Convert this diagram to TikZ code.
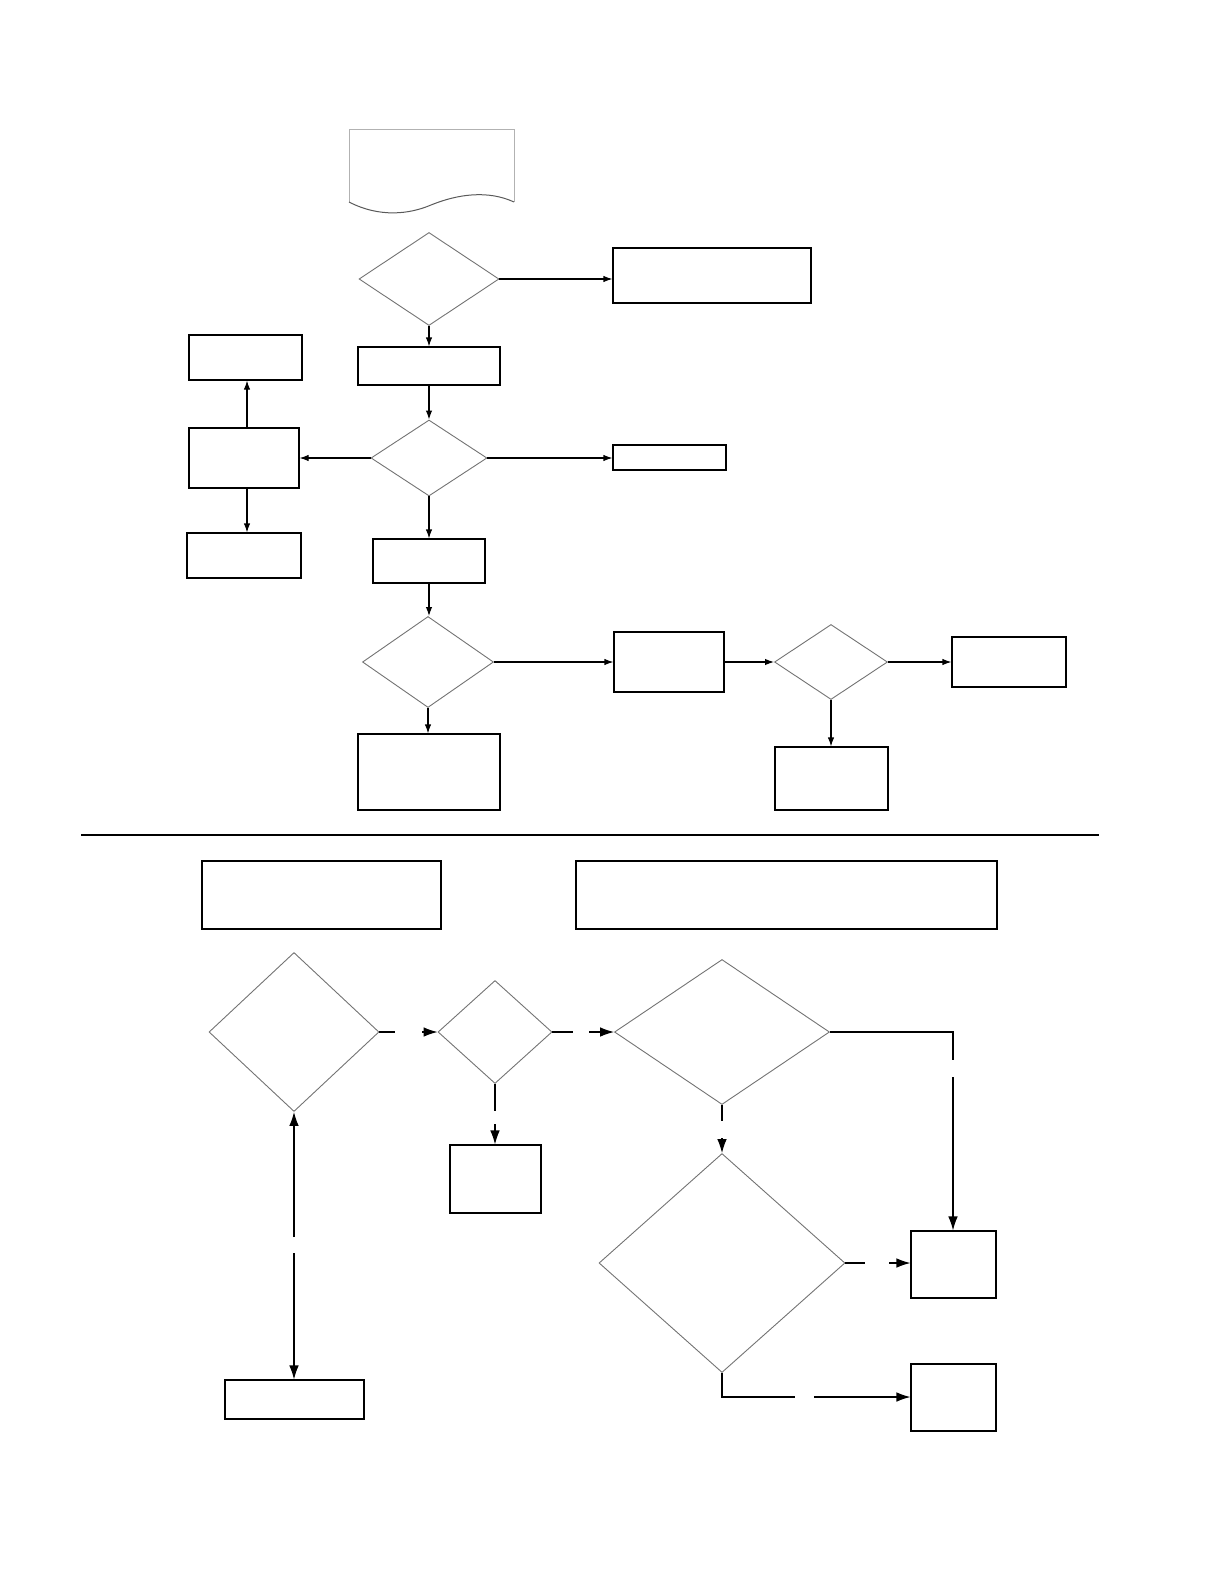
\documentclass[tikz,border=0pt]{standalone}
\usepackage{tikz}
\usetikzlibrary{shapes.geometric,arrows.meta}

\begin{document}
\begin{tikzpicture}[x=0.5pt,y=-0.5pt,
  box/.style={rectangle,draw=black,line width=0.55pt,fill=white,inner sep=0pt},
  dec/.style={diamond,draw=black!55,line width=0.45pt,inner sep=0pt},
  edge/.style={-{Latex[length=4.5pt,width=3.2pt]},line width=0.55pt},
  bigedge/.style={-{Latex[length=7pt,width=4.8pt]},line width=0.6pt},
  seg/.style={line width=0.6pt}]
\useasboundingbox (0,0) rectangle (1224,1584);
\draw[black!30,line width=0.5pt] (349,202) -- (349,130) -- (514,130) -- (514,202);
\draw[black!65,line width=0.5pt] (349,202) .. controls (380,218) and (410,214) .. (431,205)
    .. controls (458,194) and (488,190) .. (514,202);
\node[dec,minimum width=70pt,minimum height=46.5pt] (d1) at (429,279) {};
\node[box,minimum width=99pt,minimum height=27.5pt] (b1) at (712,275.5) {};
\node[box,minimum width=71pt,minimum height=19pt] (b2) at (429,366) {};
\node[dec,minimum width=58pt,minimum height=38pt] (d2) at (429,458) {};
\node[box,minimum width=56.5pt,minimum height=12.5pt] (b3) at (669.5,457.5) {};
\node[box,minimum width=55pt,minimum height=30pt] (b4) at (244,458) {};
\node[box,minimum width=56.5pt,minimum height=22.5pt] (b5) at (245.5,357.5) {};
\node[box,minimum width=57pt,minimum height=22.5pt] (b6) at (244,555.5) {};
\node[box,minimum width=56pt,minimum height=22pt] (b7) at (429,561) {};
\node[dec,minimum width=65.5pt,minimum height=45.5pt] (d3) at (428,662) {};
\node[box,minimum width=55pt,minimum height=30pt] (b8) at (669,662) {};
\node[dec,minimum width=56.5pt,minimum height=37.5pt] (d4) at (831,662) {};
\node[box,minimum width=57pt,minimum height=25pt] (b9) at (1009,662) {};
\node[box,minimum width=56.5pt,minimum height=31.5pt] (b10) at (831.5,778.5) {};
\node[box,minimum width=71pt,minimum height=38pt] (b11) at (429,772) {};
\coordinate (u4) at (247,458);
\draw[edge] (d1.east) -- (d1.east -| b1.west);
\draw[edge] (d1) -- (b2);
\draw[edge] (b2) -- (d2);
\draw[edge] (d2.east) -- (d2.east -| b3.west);
\draw[edge] (d2.west) -- (d2.west -| b4.east);
\draw[edge] (u4 |- b4.north) -- (u4 |- b5.south);
\draw[edge] (u4 |- b4.south) -- (u4 |- b6.north);
\draw[edge] (d2) -- (b7);
\draw[edge] (b7.south) -- (b7.south |- d3.north);
\draw[edge] (d3.east) -- (d3.east -| b8.west);
\draw[edge] (b8.east) -- (b8.east -| d4.west);
\draw[edge] (d4.east) -- (d4.east -| b9.west);
\draw[edge] (d4.south) -- (d4.south |- b10.north);
\draw[edge] (d3.south) -- (d3.south |- b11.north);
\draw[line width=0.6pt] (81,835) -- (1099,835);
\node[box,minimum width=119.5pt,minimum height=34pt] (t1) at (321.5,895) {};
\node[box,minimum width=210.5pt,minimum height=34pt] (t2) at (786.5,895) {};
\node[dec,minimum width=85pt,minimum height=79.5pt] (e1) at (294,1032) {};
\node[dec,minimum width=57pt,minimum height=51.5pt] (e2) at (495,1032) {};
\node[dec,minimum width=107.5pt,minimum height=72.5pt] (e3) at (722,1032) {};
\node[box,minimum width=45.5pt,minimum height=34pt] (f1) at (495.5,1179) {};
\node[dec,minimum width=123pt,minimum height=109.5pt] (e4) at (722,1263) {};
\node[box,minimum width=42.5pt,minimum height=33.5pt] (g1) at (953.5,1264.5) {};
\node[box,minimum width=42.5pt,minimum height=33.5pt] (g2) at (953.5,1397.5) {};
\node[box,minimum width=69.5pt,minimum height=19.5pt] (h1) at (294.5,1399.5) {};
\coordinate (p1) at (395,1032);
\coordinate (q1) at (422,1032);
\coordinate (p2) at (573,1032);
\coordinate (q2) at (589,1032);
\coordinate (p3) at (495,1111);
\coordinate (q3) at (495,1124);
\coordinate (k4) at (953,1032);
\coordinate (p4) at (953,1060);
\coordinate (q4) at (953,1077);
\coordinate (p5) at (722,1121);
\coordinate (q5) at (722,1138);
\coordinate (p6) at (865,1263);
\coordinate (q6) at (889,1263);
\coordinate (k7) at (722,1397);
\coordinate (p7) at (795,1397);
\coordinate (q7) at (814,1397);
\coordinate (p8) at (294,1253);
\coordinate (q8) at (294,1237);
\draw[seg] (e1.east) -- (p1);
\draw[bigedge] (q1) -- (e2.west);
\draw[seg] (e2.east) -- (p2);
\draw[bigedge] (q2) -- (e3.west);
\draw[seg] (e2.south) -- (p3);
\draw[bigedge] (q3) -- (q3 |- f1.north);
\draw[seg] (e3.east) -- (k4) -- (p4);
\draw[bigedge] (q4) -- (q4 |- g1.north);
\draw[seg] (e3.south) -- (p5);
\draw[bigedge] (q5) -- (e4.north);
\draw[seg] (e4.east) -- (p6);
\draw[bigedge] (q6) -- (g1.west |- q6);
\draw[seg] (e4.south) -- (k7) -- (p7);
\draw[bigedge] (q7) -- (g2.west |- q7);
\draw[bigedge] (p8) -- (p8 |- h1.north);
\draw[bigedge] (q8) -- (e1.south);
\end{tikzpicture}
\end{document}
